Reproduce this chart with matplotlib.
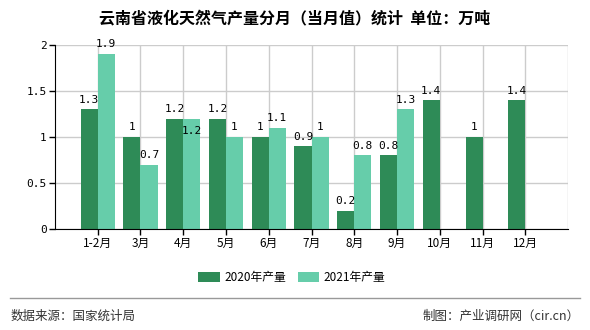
import numpy as np
import matplotlib.pyplot as plt
from matplotlib.lines import Line2D

plt.rcParams['font.family'] = ['Noto Sans CJK SC', 'DejaVu Sans']

months = ["1-2月", "3月", "4月", "5月", "6月", "7月", "8月", "9月", "10月", "11月", "12月"]
output_2020 = [1.3, 1, 1.2, 1.2, 1, 0.9, 0.2, 0.8, 1.4, 1, 1.4]
output_2021 = [1.9, 0.7, 1.2, 1, 1.1, 1, 0.8, 1.3]
yticks = [0, 0.5, 1, 1.5, 2]

dark = "#2e8b57"
light = "#66cdaa"

fig = plt.figure(figsize=(5.9, 3.3), dpi=100)
ax = fig.add_axes([0.093, 0.306, 0.870, 0.558])

x = np.arange(1, len(months) + 1)
w = 0.4
x21 = x[:len(output_2021)]
ax.bar(x - w / 2, output_2020, w, color=dark, zorder=2, label="2020年产量")
ax.bar(x21 + w / 2, output_2021, w, color=light, zorder=2, label="2021年产量")

lab_font = dict(family="DejaVu Sans Mono", fontsize=8)
for xi, v in zip(x, output_2020):
    ax.text(xi - w / 2, v + 0.05, f"{v:g}", ha="center", va="bottom", **lab_font)
for i, (xi, v) in enumerate(zip(x21, output_2021)):
    # same height as the 2020 label -> push it down so the two don't collide
    y = v + 0.05
    if abs(v - output_2020[i]) < 0.05:
        y = v - 0.19
    ax.text(xi + w / 2, y, f"{v:g}", ha="center", va="bottom", **lab_font)

ax.set_xlim(0, 12)
ax.set_ylim(0, 2)
ax.set_yticks(yticks)
ax.set_yticklabels([f"{t:g}" for t in yticks], **lab_font)
ax.set_xticks(x)
ax.set_xticklabels(months, fontsize=8.5)
ax.grid(True, color="#cccccc", linewidth=1, zorder=0)
ax.set_axisbelow(True)
for s in ["top", "right"]:
    ax.spines[s].set_visible(False)
ax.axvline(12, color="#cccccc", linewidth=1, zorder=0)
ax.spines["left"].set_color("black")
ax.spines["bottom"].set_color("black")
ax.tick_params(axis="both", length=4, width=1, pad=2)

fig.text(0.5, 0.945, "云南省液化天然气产量分月（当月值）统计  单位：万吨",
         ha="center", va="center", fontsize=11.5, fontweight="bold")

fig.legend(loc="center", bbox_to_anchor=(0.495, 0.16), ncol=2, frameon=False,
           fontsize=8.5, handlelength=1.8, handleheight=0.9, columnspacing=1.0,
           handletextpad=0.4)

fig.add_artist(Line2D([0.017, 0.983], [0.097, 0.097], color="#999999", linewidth=1))
fig.text(0.017, 0.042, "数据来源：国家统计局", ha="left", va="center", fontsize=9, color="#333333")
fig.text(0.983, 0.042, "制图：产业调研网（cir.cn）", ha="right", va="center", fontsize=9, color="#333333")

fig.savefig("out.png", dpi=100)
